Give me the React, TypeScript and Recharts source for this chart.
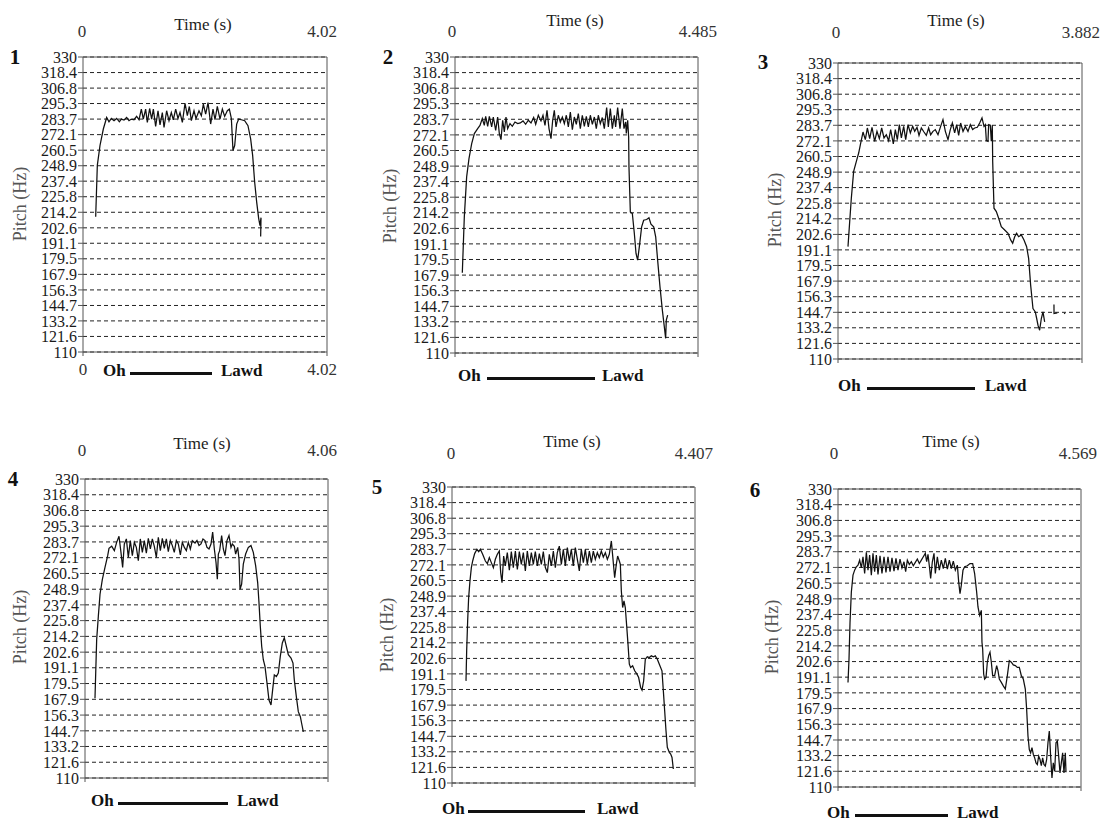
import React from "react";
import { LineChart, Line, XAxis, YAxis, CartesianGrid, ReferenceLine } from "recharts";

// pitch axis labels shared by all six panels
const yTicks = [330, 318.4, 306.8, 295.3, 283.7, 272.1, 260.5, 248.9, 237.4, 225.8, 214.2, 202.6, 191.1, 179.5, 167.9, 156.3, 144.7, 133.2, 121.6, 110];
const panelNames = ["1", "2", "3", "4", "5", "6"];
const durations = [4.02, 4.485, 3.882, 4.06, 4.407, 4.569];
const durationLabels = ["4.02", "4.485", "3.882", "4.06", "4.407", "4.569"];

type Pt = [number, number | null];

// [time (s), pitch (Hz)]
const pitch1: Pt[] = [
  [0.209, 210.9], [0.236, 249.2], [0.28, 264.0], [0.335, 276.3], [0.39, 284.9], [0.428, 281.7], [0.467, 284.2],
  [0.511, 282.5], [0.555, 284.2], [0.599, 281.7], [0.632, 283.7], [0.676, 283.0], [0.719, 284.9], [0.758, 282.5],
  [0.796, 283.7], [0.84, 283.2], [0.884, 285.7], [0.923, 283.2], [0.961, 291.1], [0.994, 283.7], [1.032, 291.1],
  [1.06, 281.2], [1.098, 291.6], [1.131, 283.7], [1.159, 291.1], [1.197, 278.3], [1.236, 289.9], [1.269, 279.3],
  [1.307, 288.6], [1.335, 277.5], [1.378, 289.9], [1.417, 282.5], [1.455, 288.6], [1.488, 283.2], [1.527, 291.1],
  [1.565, 284.2], [1.598, 288.6], [1.637, 281.2], [1.681, 295.5], [1.719, 286.2], [1.752, 293.1], [1.785, 282.5],
  [1.829, 289.9], [1.862, 284.2], [1.911, 289.9], [1.95, 286.2], [1.983, 294.8], [2.021, 287.4], [2.06, 296.0],
  [2.103, 280.0], [2.142, 291.1], [2.175, 283.2], [2.213, 293.1], [2.257, 283.7], [2.296, 291.1], [2.334, 285.7],
  [2.378, 289.9], [2.411, 291.1], [2.444, 284.2], [2.471, 260.3], [2.499, 264.0], [2.532, 280.0], [2.565, 283.7],
  [2.609, 283.2], [2.664, 282.5], [2.718, 278.8], [2.762, 268.9], [2.795, 256.6], [2.828, 236.8], [2.861, 222.0],
  [2.894, 209.7], [2.916, 204.2], [2.933, 210.2], [2.927, 196.1],
];

const pitch2: Pt[] = [
  [0.135, 169.6], [0.172, 211.2], [0.215, 240.9], [0.258, 254.5], [0.308, 265.6], [0.357, 273.1], [0.418, 276.8],
  [0.461, 279.2], [0.504, 284.2], [0.541, 279.2], [0.566, 285.9], [0.603, 278.5], [0.634, 285.9], [0.677, 278.0],
  [0.707, 285.4], [0.751, 275.5], [0.787, 285.4], [0.818, 273.1], [0.849, 268.6], [0.88, 283.0], [0.91, 274.3],
  [0.941, 285.4], [0.972, 276.8], [1.015, 280.5], [1.058, 278.5], [1.107, 281.7], [1.157, 280.5], [1.206, 281.0],
  [1.255, 282.5], [1.304, 280.0], [1.353, 283.0], [1.403, 281.0], [1.452, 285.0], [1.489, 280.0], [1.538, 286.7],
  [1.587, 282.5], [1.624, 286.7], [1.661, 279.2], [1.698, 290.4], [1.735, 276.8], [1.772, 269.3], [1.803, 283.0],
  [1.833, 290.4], [1.864, 278.0], [1.907, 286.7], [1.944, 281.7], [1.981, 285.4], [2.018, 280.5], [2.055, 286.7],
  [2.092, 278.0], [2.129, 289.1], [2.166, 276.0], [2.202, 285.4], [2.239, 280.0], [2.276, 287.9], [2.313, 276.8],
  [2.35, 286.7], [2.387, 278.5], [2.424, 285.9], [2.461, 278.0], [2.498, 286.7], [2.535, 280.0], [2.572, 285.4],
  [2.608, 276.8], [2.645, 286.7], [2.682, 280.5], [2.719, 285.0], [2.756, 276.8], [2.799, 292.4], [2.83, 278.0],
  [2.867, 291.6], [2.904, 276.8], [2.941, 286.7], [2.965, 278.0], [3.002, 292.4], [3.045, 276.8], [3.088, 291.6],
  [3.119, 276.8], [3.15, 281.7], [3.162, 273.1], [3.187, 283.0], [3.205, 270.6], [3.211, 248.3], [3.236, 214.9],
  [3.273, 213.7], [3.31, 198.8], [3.341, 184.0], [3.371, 179.0], [3.402, 188.9], [3.445, 203.8], [3.482, 208.7],
  [3.537, 209.2], [3.58, 210.5], [3.617, 205.8], [3.667, 203.8], [3.704, 196.4], [3.74, 179.0], [3.783, 159.3],
  [3.827, 141.9], [3.863, 129.6], [3.888, 120.9], [3.9, 134.5], [3.925, 138.2],
];

const pitch3: Pt[] = [
  [0.159, 193.5], [0.186, 212.1], [0.212, 229.5], [0.249, 249.4], [0.292, 256.9], [0.329, 263.1], [0.361, 270.5],
  [0.398, 278.7], [0.435, 273.0], [0.467, 281.7], [0.504, 273.8], [0.541, 282.2], [0.583, 271.8], [0.62, 279.2],
  [0.658, 273.8], [0.695, 281.7], [0.732, 274.3], [0.769, 276.7], [0.806, 272.3], [0.838, 280.5], [0.88, 269.8],
  [0.912, 280.5], [0.944, 273.0], [0.976, 284.2], [1.008, 274.3], [1.045, 282.9], [1.077, 273.0], [1.114, 284.2],
  [1.151, 278.0], [1.188, 282.9], [1.22, 279.2], [1.257, 282.2], [1.289, 276.2], [1.326, 281.7], [1.368, 278.7],
  [1.405, 276.2], [1.442, 281.7], [1.474, 276.7], [1.511, 279.2], [1.548, 280.5], [1.591, 276.7], [1.633, 282.9],
  [1.67, 287.9], [1.708, 279.2], [1.75, 273.0], [1.787, 280.5], [1.819, 285.4], [1.856, 278.0], [1.888, 284.2],
  [1.92, 276.2], [1.951, 285.4], [1.989, 279.2], [2.026, 282.9], [2.068, 279.2], [2.105, 284.2], [2.142, 280.5],
  [2.174, 281.7], [2.217, 282.2], [2.254, 285.4], [2.291, 289.2], [2.323, 282.9], [2.344, 284.2], [2.36, 272.3],
  [2.386, 271.8], [2.397, 284.2], [2.423, 283.7], [2.439, 271.8], [2.455, 283.7], [2.461, 256.9], [2.482, 222.1],
  [2.519, 219.6], [2.556, 214.6], [2.598, 208.4], [2.652, 205.9], [2.705, 203.4], [2.747, 198.5], [2.779, 196.0],
  [2.811, 200.9], [2.842, 203.4], [2.874, 200.9], [2.917, 202.2], [2.959, 198.5], [3.001, 193.5], [3.033, 184.8],
  [3.065, 164.9], [3.102, 147.5], [3.139, 145.0], [3.161, 140.1], [3.182, 135.1], [3.208, 131.4], [3.235, 140.1],
  [3.261, 145.0], [3.288, 137.6], [3.35, null], [3.436, 150.5], [3.437, 143.8], [3.489, 144.3], [3.52, null],
  [3.6, 144.3], [3.612, 143.6],
];

const pitch4: Pt[] = [
  [0.167, 168.6], [0.195, 211.8], [0.223, 229.1], [0.251, 245.2], [0.29, 256.2], [0.334, 264.9], [0.379, 273.6],
  [0.401, 279.0], [0.446, 280.5], [0.49, 277.3], [0.529, 283.4], [0.568, 287.9], [0.601, 276.0], [0.629, 264.9],
  [0.657, 282.2], [0.691, 285.9], [0.724, 272.3], [0.757, 284.7], [0.791, 273.6], [0.824, 283.4], [0.858, 279.7],
  [0.891, 269.9], [0.924, 285.9], [0.958, 276.0], [0.991, 284.7], [1.025, 275.5], [1.058, 286.4], [1.092, 278.5],
  [1.125, 285.9], [1.158, 280.5], [1.192, 272.3], [1.225, 287.1], [1.259, 277.3], [1.292, 286.4], [1.325, 279.0],
  [1.359, 285.9], [1.392, 276.5], [1.426, 284.7], [1.459, 281.0], [1.492, 276.0], [1.526, 284.7], [1.559, 282.2],
  [1.593, 274.1], [1.626, 283.4], [1.66, 279.7], [1.693, 277.3], [1.726, 283.4], [1.76, 278.5], [1.793, 284.7],
  [1.838, 282.9], [1.871, 284.7], [1.905, 281.0], [1.938, 282.2], [1.971, 285.9], [2.005, 284.7], [2.038, 279.7],
  [2.072, 278.5], [2.105, 282.2], [2.133, 290.9], [2.161, 278.5], [2.189, 268.6], [2.211, 256.3], [2.228, 274.8],
  [2.25, 277.3], [2.283, 288.4], [2.311, 278.5], [2.339, 273.6], [2.372, 284.7], [2.406, 288.4], [2.439, 279.7],
  [2.461, 282.2], [2.495, 280.5], [2.517, 274.8], [2.551, 279.7], [2.573, 271.1], [2.59, 248.9], [2.617, 252.6],
  [2.645, 267.4], [2.684, 274.8], [2.729, 279.7], [2.773, 281.0], [2.812, 276.0], [2.851, 266.2], [2.885, 253.8],
  [2.907, 239.0], [2.929, 221.7], [2.952, 206.9], [2.979, 197.0], [3.007, 192.1], [3.041, 179.8], [3.074, 167.4],
  [3.108, 163.7], [3.135, 174.8], [3.163, 185.9], [3.197, 184.7], [3.23, 187.2], [3.263, 199.5], [3.297, 209.4],
  [3.33, 213.1], [3.364, 206.9], [3.397, 200.7], [3.442, 198.3], [3.475, 194.6], [3.497, 182.2], [3.531, 169.9],
  [3.564, 158.8], [3.598, 155.1], [3.62, 150.1], [3.648, 144.0],
];

const pitch5: Pt[] = [
  [0.254, 185.9], [0.266, 208.2], [0.284, 230.5], [0.302, 247.8], [0.326, 260.2], [0.351, 270.1], [0.375, 275.0],
  [0.411, 280.5], [0.453, 283.7], [0.484, 282.0], [0.514, 283.7], [0.556, 280.0], [0.605, 275.0], [0.641, 273.0],
  [0.677, 277.5], [0.713, 273.8], [0.75, 270.1], [0.786, 276.3], [0.822, 280.0], [0.858, 282.4], [0.883, 266.4],
  [0.907, 258.9], [0.937, 278.7], [0.967, 271.3], [1.003, 281.2], [1.04, 268.1], [1.076, 282.0], [1.112, 270.1],
  [1.149, 282.4], [1.185, 268.8], [1.221, 282.0], [1.257, 272.5], [1.294, 281.2], [1.33, 267.6], [1.366, 282.4],
  [1.402, 271.3], [1.439, 281.2], [1.475, 272.5], [1.511, 282.0], [1.548, 271.3], [1.584, 280.5], [1.62, 272.5],
  [1.656, 282.0], [1.693, 270.1], [1.729, 266.4], [1.765, 280.0], [1.801, 271.3], [1.838, 282.4], [1.874, 270.1],
  [1.91, 281.2], [1.946, 286.1], [1.983, 272.5], [2.019, 283.7], [2.055, 271.3], [2.092, 284.9], [2.128, 275.0],
  [2.164, 283.7], [2.2, 271.3], [2.237, 284.9], [2.273, 276.2], [2.309, 267.6], [2.345, 283.7], [2.382, 273.8],
  [2.418, 283.7], [2.454, 272.5], [2.491, 282.4], [2.527, 273.8], [2.563, 282.4], [2.599, 276.2], [2.636, 281.2],
  [2.672, 277.5], [2.708, 282.4], [2.744, 278.0], [2.781, 281.2], [2.817, 276.2], [2.853, 280.0], [2.89, 289.9],
  [2.92, 276.2], [2.95, 262.6], [2.98, 272.5], [3.004, 278.7], [3.035, 275.0], [3.053, 272.5], [3.071, 252.7],
  [3.095, 240.4], [3.119, 245.3], [3.143, 240.4], [3.168, 226.8], [3.192, 213.2], [3.216, 198.3], [3.24, 195.8],
  [3.276, 197.1], [3.313, 193.4], [3.355, 190.9], [3.385, 188.4], [3.421, 181.0], [3.446, 179.0], [3.476, 186.0],
  [3.506, 202.0], [3.542, 203.8], [3.579, 203.3], [3.615, 204.5], [3.651, 203.8], [3.687, 204.5], [3.724, 202.0],
  [3.76, 198.3], [3.808, 193.4], [3.833, 178.5], [3.857, 163.7], [3.881, 148.8], [3.905, 136.5], [3.941, 132.7],
  [3.966, 131.5], [3.99, 129.0], [4.014, 120.4],
];

const pitch6: Pt[] = [
  [0.188, 187.2], [0.207, 204.5], [0.226, 231.7], [0.251, 254.0], [0.282, 266.4], [0.313, 270.1], [0.345, 272.6],
  [0.376, 273.8], [0.407, 277.5], [0.439, 271.8], [0.47, 280.0], [0.501, 267.6], [0.533, 283.2], [0.564, 270.1],
  [0.595, 281.2], [0.627, 266.4], [0.658, 282.5], [0.689, 268.9], [0.721, 281.2], [0.752, 266.9], [0.79, 280.7],
  [0.827, 267.6], [0.865, 280.0], [0.902, 268.4], [0.94, 280.0], [0.978, 268.9], [1.015, 279.2], [1.053, 269.3],
  [1.09, 278.8], [1.128, 270.1], [1.166, 278.3], [1.203, 271.8], [1.241, 276.3], [1.272, 268.9], [1.304, 277.5],
  [1.341, 274.3], [1.379, 276.3], [1.416, 273.3], [1.454, 275.8], [1.492, 278.3], [1.529, 275.0], [1.567, 277.5],
  [1.604, 280.0], [1.642, 282.5], [1.667, 276.3], [1.692, 281.7], [1.723, 271.3], [1.742, 263.9], [1.774, 276.3],
  [1.805, 282.5], [1.83, 267.6], [1.868, 280.0], [1.905, 270.1], [1.943, 277.5], [1.98, 271.3], [2.018, 278.8],
  [2.056, 270.8], [2.093, 277.5], [2.131, 271.3], [2.168, 276.8], [2.206, 270.1], [2.244, 273.8], [2.269, 261.4],
  [2.294, 252.8], [2.319, 259.0], [2.35, 270.1], [2.381, 272.6], [2.432, 273.3], [2.482, 275.0], [2.532, 275.0],
  [2.569, 267.6], [2.607, 254.0], [2.632, 242.9], [2.663, 236.7], [2.695, 240.4], [2.707, 216.9], [2.72, 211.9],
  [2.739, 193.4], [2.757, 189.7], [2.783, 190.9], [2.808, 202.1], [2.833, 207.0], [2.858, 209.5], [2.883, 202.1],
  [2.908, 192.2], [2.945, 192.2], [2.983, 199.6], [3.008, 195.9], [3.033, 189.7], [3.071, 187.2], [3.108, 184.7],
  [3.146, 182.3], [3.184, 192.2], [3.221, 203.3], [3.259, 202.1], [3.296, 200.1], [3.334, 199.6], [3.372, 198.3],
  [3.409, 198.3], [3.447, 192.2], [3.484, 189.7], [3.522, 182.3], [3.547, 167.4], [3.572, 147.6], [3.597, 137.7],
  [3.622, 135.2], [3.647, 139.0], [3.673, 134.0], [3.698, 131.5], [3.723, 127.8], [3.748, 126.6], [3.773, 132.8],
  [3.798, 130.3], [3.823, 125.8], [3.848, 131.5], [3.873, 126.6], [3.898, 125.4], [3.923, 130.3], [3.948, 142.7],
  [3.973, 151.3], [3.998, 132.8], [4.023, 116.7], [4.048, 127.8], [4.074, 121.6], [4.099, 142.7], [4.124, 143.9],
  [4.149, 132.8], [4.174, 120.4], [4.199, 127.8], [4.224, 135.2], [4.249, 120.4], [4.274, 135.2], [4.287, 120.9],
];

const contours = [pitch1, pitch2, pitch3, pitch4, pitch5, pitch6];

const SERIF = '"Liberation Serif", "Times New Roman", serif';

// page positions of each panel's plot box and its labels
const layout = [
  { left: 83, top: 57, w: 244, h: 295, num: [15, 57], title: [203, 24], zero: [82, 31], end: [337, 31], ylab: [20, 204], words: { y: 370, oh: 103, bar: [130, 212], lawd: 221 }, bottom: [369, 337] },
  { left: 455, top: 57, w: 243, h: 296, num: [388, 57], title: [575, 20], zero: [452, 31], end: [717, 31], ylab: [390, 206], words: { y: 375, oh: 458, bar: [487, 595], lawd: 602 } },
  { left: 838, top: 63, w: 244, h: 296, num: [763, 62], title: [956, 20], zero: [836, 32], end: [1100, 32], ylab: [775, 210], words: { y: 385, oh: 838, bar: [867, 975], lawd: 985 } },
  { left: 85, top: 479, w: 243, h: 299, num: [13, 479], title: [202, 443], zero: [82, 450], end: [337, 450], ylab: [20, 627], words: { y: 800, oh: 91, bar: [118, 228], lawd: 237 } },
  { left: 452, top: 487, w: 243, h: 296, num: [377, 487], title: [572, 441], zero: [451, 453], end: [713, 453], ylab: [387, 635], words: { y: 808, oh: 442, bar: [468, 585], lawd: 597 } },
  { left: 838, top: 489, w: 243, h: 298, num: [755, 490], title: [951, 441], zero: [834, 453], end: [1097, 453], ylab: [772, 637], words: { y: 812, oh: 827, bar: [855, 948], lawd: 957 } },
] as any[];

const YW = 70;
const TOPPAD = 10;

function Txt({ x, y, children, anchor = "middle", size = 17, bold = false, color = "#222", rotate = 0 }: any) {
  const tx = anchor === "middle" ? "-50%" : anchor === "end" ? "-100%" : "0";
  return (
    <div
      style={{
        position: "absolute",
        left: x,
        top: y,
        transform: `translate(${tx}, -50%)` + (rotate ? ` rotate(${rotate}deg)` : ""),
        transformOrigin: anchor === "middle" ? "50% 50%" : undefined,
        fontFamily: SERIF,
        fontSize: size,
        fontWeight: bold ? 700 : 400,
        color,
        whiteSpace: "nowrap",
        lineHeight: 1,
      }}
    >
      {children}
    </div>
  );
}

function Panel({ i }: { i: number }) {
  const L = layout[i];
  const tmax = durations[i];
  const data = contours[i].map(([t, hz]) => ({ t, hz }));
  return (
    <>
      <div style={{ position: "absolute", left: L.left - YW, top: L.top - TOPPAD }}>
        <LineChart width={YW + L.w + 10} height={TOPPAD + L.h + 10} data={data} margin={{ top: TOPPAD, right: 10, left: 0, bottom: 4 }}>
          <CartesianGrid vertical={false} stroke="#222" strokeDasharray="4 3" />
          <XAxis
            type="number"
            dataKey="t"
            domain={[0, tmax]}
            ticks={[0, tmax]}
            height={6}
            tickSize={4}
            tickFormatter={() => ""}
            axisLine={{ stroke: "#555" }}
            tickLine={{ stroke: "#555" }}
            allowDataOverflow
          />
          <YAxis
            type="number"
            domain={[110, 330]}
            ticks={yTicks}
            interval={0}
            width={YW}
            tickSize={5}
            tickMargin={1}
            axisLine={{ stroke: "#555" }}
            tickLine={{ stroke: "#555" }}
            tick={{ fontFamily: SERIF, fontSize: 16, fill: "#1a1a1a" }}
            allowDataOverflow
          />
          <ReferenceLine y={330} stroke="#555" />
          <ReferenceLine x={tmax} stroke="#555" />
          <Line type="linear" dataKey="hz" stroke="#111" strokeWidth={1.25} dot={false} isAnimationActive={false} connectNulls={false} />
        </LineChart>
      </div>
      <Txt x={L.num[0]} y={L.num[1]} size={21} bold color="#111">{panelNames[i]}</Txt>
      <Txt x={L.title[0]} y={L.title[1]}>Time (s)</Txt>
      <Txt x={L.zero[0]} y={L.zero[1]} color="#333">0</Txt>
      <Txt x={L.end[0]} y={L.end[1]} anchor="end" color="#333">{durationLabels[i]}</Txt>
      <Txt x={L.ylab[0]} y={L.ylab[1]} rotate={-90} size={18} color="#555">Pitch (Hz)</Txt>
      {L.bottom && <Txt x={L.left} y={L.bottom[0]} color="#333">0</Txt>}
      {L.bottom && <Txt x={L.bottom[1]} y={L.bottom[0]} anchor="end" color="#333">{durationLabels[i]}</Txt>}
      <Txt x={L.words.oh} y={L.words.y} anchor="start" bold color="#111">Oh</Txt>
      <div style={{ position: "absolute", left: L.words.bar[0], top: L.words.y + 2, width: L.words.bar[1] - L.words.bar[0], height: 3, background: "#111" }} />
      <Txt x={L.words.lawd} y={L.words.y} anchor="start" bold color="#111">Lawd</Txt>
    </>
  );
}

export default function App() {
  return (
    <div style={{ position: "absolute", left: 0, top: 0, width: 1102, height: 820, background: "#fff", overflow: "hidden" }}>
      {layout.map((_, i) => (
        <Panel key={i} i={i} />
      ))}
    </div>
  );
}
